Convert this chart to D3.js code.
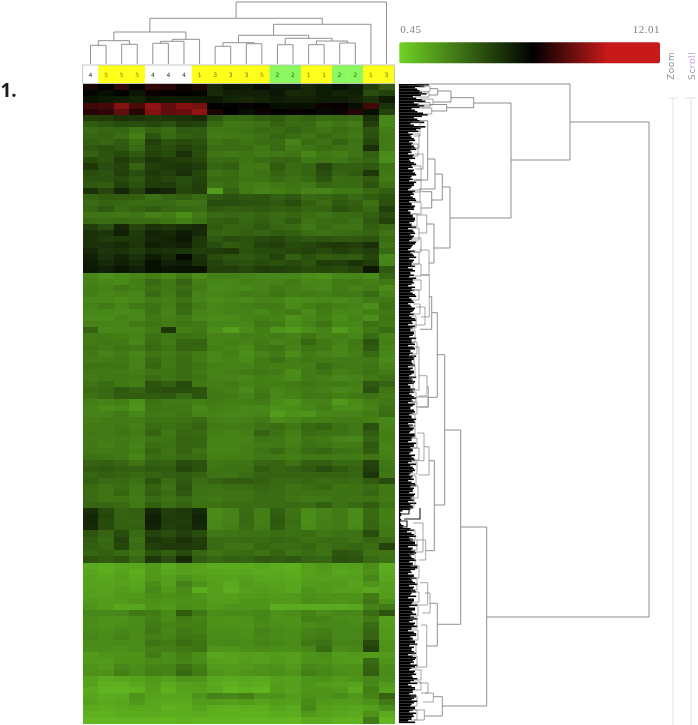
<!DOCTYPE html>
<html>
<head>
<meta charset="utf-8">
<script src="https://cdn.jsdelivr.net/npm/d3@7"></script>
<style>
  html, body { margin: 0; padding: 0; background: #fff; }
  svg { display: block; filter: blur(0.45px); }
</style>
</head>
<body>
<div id="chart"></div>
<script>
// annotation strip over the columns
const sampleGroups = [4, 5, 5, 5, 4, 4, 4, 1, 3, 3, 3, 5, 2, 2, 1, 1, 2, 2, 1, 3];
const groupColors = {1: "#ffff1c", 2: "#8af85e", 3: "#ffff1c", 4: "#ffffff", 5: "#ffff1c"};
const groupInk = {1: "#96650f", 2: "#2f6b2a", 3: "#6f6f18", 4: "#2a3038", 5: "#b07a10"};

// legend range
const legendMin = 0.45;
const legendMax = 12.01;

// heatmap rows top to bottom, 20 values per row
const redRows = [
  [6.8,6.4,7.2,6.5,7.2,7.0,6.6,6.9,5.3,5.8,5.6,6.0,5.7,5.7,5.3,5.6,6.0,5.6,4.6,3.8],
  [6.2,6.0,6.3,5.8,6.6,6.5,6.3,6.2,5.2,5.5,5.5,5.5,5.7,5.2,5.3,5.6,5.4,5.5,4.2,4.5],
  [5.9,5.7,5.6,5.4,5.8,5.6,5.7,5.7,5.7,5.4,5.3,5.4,5.6,5.5,5.5,5.6,5.6,5.4,5.0,5.6],
  [7.4,7.5,8.6,7.6,8.8,8.0,8.6,8.4,6.4,6.3,6.5,6.3,6.0,6.0,6.0,6.6,6.5,6.0,7.5,5.0],
  [7.0,7.2,8.0,7.0,8.6,8.0,8.2,8.8,6.8,6.4,6.0,6.6,6.4,6.5,6.3,6.1,6.6,7.0,6.0,4.5]
];
const upperRows = [
  [4.6,4.7,5.0,4.9,4.7,4.9,5.0,5.2,3.9,3.4,3.4,3.7,3.8,3.4,3.6,3.3,3.4,3.3,5.0,2.6],
  [3.8,4.0,4.3,4.2,4.4,4.1,4.6,4.5,3.4,3.0,3.1,3.2,3.6,3.3,3.4,2.9,3.1,2.9,4.6,2.6],
  [3.3,3.5,3.5,3.1,3.6,3.3,3.9,3.8,3.0,3.1,3.2,3.4,3.3,3.6,3.3,3.1,3.3,3.1,4.0,2.8],
  [3.5,3.6,3.3,2.8,4.0,3.4,3.7,3.9,2.9,3.0,3.0,3.2,3.5,3.3,3.1,3.4,3.2,3.0,4.1,2.9],
  [3.7,3.5,3.8,3.2,4.6,4.0,4.3,4.1,3.1,3.3,3.1,3.3,3.3,2.7,3.3,3.2,3.6,3.2,4.4,2.9],
  [3.9,4.1,3.9,3.4,4.4,4.2,4.5,4.3,3.3,3.3,3.3,3.0,3.4,2.9,3.1,3.3,3.2,3.1,5.0,2.9],
  [3.6,4.0,4.3,3.9,4.5,4.3,5.0,4.2,3.1,3.0,3.1,2.9,3.0,3.1,2.6,3.0,2.8,3.1,3.7,2.5],
  [4.3,4.0,4.7,4.2,4.9,4.7,4.6,4.4,3.3,3.4,3.1,3.3,3.5,3.5,3.0,3.1,3.0,3.3,3.5,2.4],
  [4.8,4.2,4.5,3.6,4.6,4.8,4.9,4.7,3.5,3.7,3.0,3.0,3.8,3.3,3.5,4.4,3.7,3.7,3.9,3.1],
  [4.2,4.0,4.6,4.2,4.8,4.6,5.0,4.4,3.2,3.3,3.0,3.2,3.6,3.3,3.6,4.2,3.6,3.8,4.8,3.0],
  [4.0,4.1,4.3,3.9,4.6,4.4,4.2,4.5,3.4,3.4,3.1,3.1,3.4,3.2,3.4,4.0,3.3,3.4,3.8,2.9],
  [3.9,3.8,4.5,4.1,4.7,4.7,4.3,4.6,3.2,3.3,2.9,2.8,3.0,3.1,3.0,3.5,3.4,3.3,4.0,3.2],
  [5.0,4.4,5.3,4.5,5.5,5.3,4.4,4.6,2.0,3.6,2.9,2.7,2.8,3.0,2.7,2.7,3.0,3.0,3.4,3.7],
  [3.6,3.8,3.8,3.7,3.2,3.5,3.7,3.4,3.9,4.1,3.9,4.0,3.7,3.9,3.4,3.5,3.7,3.4,3.8,4.0],
  [3.3,3.6,3.5,3.3,3.4,3.4,3.1,3.2,4.2,4.2,4.1,4.0,3.9,4.2,3.7,3.3,3.9,3.7,3.2,4.1],
  [3.5,3.9,3.4,3.6,3.8,3.5,3.4,3.3,3.9,3.7,3.8,3.9,3.7,3.8,3.5,3.6,4.1,3.8,3.4,4.6],
  [3.1,3.1,3.0,3.1,2.7,2.9,2.4,3.0,3.4,3.5,3.4,3.6,3.3,3.5,3.3,3.1,3.3,3.4,3.7,4.2],
  [3.4,3.3,3.4,3.3,3.3,3.1,2.8,3.2,3.7,3.8,3.5,3.7,3.4,3.8,3.2,3.3,3.4,3.2,3.9,4.5],
  [4.6,4.2,5.3,4.4,5.0,4.8,5.1,5.3,3.8,3.5,3.6,3.9,3.5,3.4,3.0,3.4,3.2,3.1,3.7,3.4],
  [5.0,4.9,5.5,4.7,5.4,5.2,5.6,5.2,3.6,3.5,3.7,3.6,3.8,3.7,3.3,3.2,3.3,3.4,3.6,3.1],
  [5.0,4.7,4.8,4.8,5.3,5.4,5.7,4.9,3.9,4.2,4.1,4.3,4.4,4.1,3.9,4.0,3.9,3.9,4.0,3.3],
  [5.0,5.0,5.2,4.9,5.5,5.3,5.5,4.8,4.2,3.8,4.0,4.5,4.6,4.3,4.4,4.7,4.8,4.6,5.0,3.1],
  [5.3,4.9,5.0,4.7,5.1,5.0,4.9,4.6,4.7,4.8,4.1,4.3,4.3,4.4,4.5,4.3,4.6,4.4,4.6,3.4],
  [5.5,5.0,5.4,5.0,5.6,5.2,6.1,5.0,4.3,4.0,3.9,4.1,4.5,3.7,4.1,3.8,3.9,3.8,4.4,2.6],
  [5.6,5.2,5.5,5.2,6.0,5.5,5.6,5.1,4.5,4.2,4.1,4.3,4.1,4.3,4.0,4.7,4.6,5.0,4.7,2.7],
  [5.7,5.5,5.8,5.5,6.0,5.8,5.9,5.9,4.6,4.6,4.4,4.7,4.6,4.5,4.3,4.4,4.3,4.5,5.7,3.9]
];
const midRows = [
  [2.6,2.3,2.4,2.6,2.8,2.5,2.9,2.4,2.8,2.8,2.7,2.6,2.6,2.6,2.4,2.3,2.6,2.6,2.5,3.5],
  [2.7,2.6,2.5,2.8,3.4,3.0,3.6,2.8,2.6,2.6,2.8,2.7,2.7,2.9,2.6,2.6,2.9,3.0,2.8,3.0],
  [2.8,2.7,3.0,2.8,3.2,3.0,3.3,2.9,2.5,2.6,2.6,2.7,3.0,2.8,2.7,2.6,2.9,2.7,2.9,2.5],
  [2.8,2.6,2.7,2.6,3.4,2.9,3.5,2.7,2.6,2.7,2.9,2.8,3.1,2.8,2.9,2.8,3.0,2.9,3.4,2.7],
  [2.6,2.6,2.5,2.6,2.9,2.8,3.2,2.7,2.5,2.6,2.5,2.7,2.7,2.4,2.5,2.6,2.5,2.6,2.9,3.0],
  [2.7,2.9,2.6,3.0,3.2,2.8,3.4,2.9,2.6,2.7,2.8,2.9,2.9,2.5,2.8,3.0,2.8,2.7,2.4,3.2],
  [2.6,2.6,2.5,2.6,3.2,2.7,3.3,2.7,2.6,2.7,2.7,2.6,2.8,2.9,2.5,2.9,2.6,2.6,2.8,3.0],
  [2.5,2.5,2.7,2.6,3.0,2.8,3.0,2.6,2.5,2.5,2.7,2.8,2.7,2.3,2.6,2.8,2.4,2.7,2.4,3.1],
  [2.7,2.7,2.6,2.9,3.1,2.9,3.1,3.0,2.6,2.6,2.6,3.0,2.9,2.4,2.7,3.1,2.6,2.6,3.2,3.0],
  [3.6,2.6,2.6,2.6,2.9,4.8,2.8,3.0,2.4,1.9,2.5,2.8,2.2,2.1,2.4,2.7,2.0,2.5,3.0,3.3],
  [2.9,2.9,2.8,2.7,3.2,3.0,3.2,3.1,2.7,2.7,2.8,2.8,2.9,2.7,3.1,2.7,2.8,2.6,3.4,2.7],
  [2.9,3.0,3.0,2.6,3.3,2.9,3.5,3.6,2.7,2.8,2.7,2.9,2.7,2.8,3.5,3.0,2.7,3.0,4.0,2.8],
  [3.1,2.9,3.1,3.0,3.4,3.1,3.6,3.5,2.8,2.7,2.5,3.0,3.1,2.7,3.1,3.0,2.6,2.9,3.9,2.7],
  [3.0,2.7,2.9,2.6,3.1,2.9,3.2,2.9,2.6,2.8,2.4,2.7,2.9,2.4,2.9,2.7,2.6,2.8,3.4,2.6],
  [2.9,2.9,3.0,2.7,3.3,3.0,3.3,2.9,2.6,2.7,2.5,2.9,3.2,2.8,3.0,2.9,2.9,2.9,3.0,2.5],
  [3.2,3.1,3.1,2.7,3.5,3.0,3.3,3.1,2.8,2.7,2.7,2.9,2.8,2.8,2.8,3.3,3.0,2.9,3.1,2.7],
  [3.0,3.0,2.9,2.8,3.1,3.1,3.3,3.0,2.7,2.8,2.9,3.0,2.9,2.4,2.9,3.1,2.8,2.9,3.2,2.9],
  [2.9,3.0,3.0,2.9,3.3,3.1,3.3,3.1,2.7,2.7,2.6,2.8,2.7,2.5,2.9,2.8,2.6,2.7,3.0,3.2],
  [3.1,3.3,3.0,2.8,4.0,3.7,4.3,3.0,2.8,2.9,2.7,2.8,2.8,2.9,3.1,2.9,2.9,2.8,3.9,3.6],
  [3.3,3.4,3.9,3.6,4.1,4.2,4.2,4.0,2.9,2.8,2.5,2.9,2.6,2.8,2.9,2.8,2.6,2.7,4.1,3.1],
  [3.2,3.4,3.8,3.8,3.8,3.9,3.4,4.0,3.0,2.9,2.7,3.1,2.6,2.7,3.0,3.0,2.8,3.0,3.2,2.9],
  [2.8,2.7,2.8,2.3,3.2,2.9,2.9,2.8,2.9,2.8,2.8,2.9,2.5,2.2,2.7,2.7,2.1,2.5,2.8,3.0],
  [2.7,2.5,2.6,2.2,3.1,3.0,3.0,2.6,2.8,2.7,2.6,2.6,2.3,2.4,2.6,2.8,2.4,2.4,2.7,3.2],
  [2.7,2.7,3.0,2.6,3.0,2.9,3.1,2.7,2.7,2.6,2.6,2.7,2.0,2.3,2.2,2.6,2.7,2.7,2.9,3.3],
  [2.8,2.9,2.9,2.9,3.1,3.1,3.2,3.4,2.8,2.7,2.8,3.0,2.5,2.6,2.8,2.8,2.9,2.9,2.8,2.6],
  [2.9,2.9,3.0,2.8,3.3,3.2,3.3,3.6,2.9,2.9,2.9,3.2,3.3,3.0,3.4,3.6,3.2,3.0,4.1,2.7],
  [3.0,2.9,3.1,2.9,3.6,3.0,3.5,3.4,2.8,2.7,2.8,3.6,3.2,2.8,3.3,3.2,3.2,3.0,3.8,2.8],
  [2.9,2.9,2.9,2.8,3.1,3.1,3.6,3.5,2.7,2.7,2.7,3.1,3.0,2.7,3.1,3.0,2.7,2.6,3.6,2.8],
  [3.0,2.8,3.0,2.7,3.3,3.2,3.5,3.5,2.7,2.7,2.8,2.9,3.0,2.8,3.2,3.1,2.9,2.9,3.9,2.7],
  [3.0,2.9,3.0,2.8,3.5,3.1,3.6,3.2,2.7,2.7,2.8,3.1,3.4,2.9,3.3,3.5,3.2,3.1,3.8,2.7],
  [3.2,3.1,3.0,2.6,3.3,3.2,3.4,3.3,2.8,2.8,2.8,3.0,3.0,2.8,3.0,3.0,2.9,2.9,3.1,2.8],
  [3.6,3.7,3.5,3.1,3.7,3.6,4.2,4.0,3.0,3.1,3.1,3.5,3.6,3.2,3.7,3.7,3.4,3.4,4.5,3.0],
  [3.8,3.9,3.7,3.7,3.9,3.8,4.4,4.1,3.1,3.2,3.2,3.8,3.5,3.7,3.9,4.2,3.9,3.6,4.6,3.1],
  [3.5,3.7,3.6,3.4,3.6,3.7,3.8,3.6,3.2,3.1,3.3,3.6,3.6,3.6,3.6,3.6,3.6,3.5,4.9,3.0],
  [3.7,3.4,3.4,3.2,4.0,3.3,3.9,3.3,3.6,3.8,3.8,3.7,3.4,3.4,3.5,3.3,3.4,3.3,3.8,4.2],
  [3.4,3.2,3.3,3.0,3.6,3.2,4.0,3.2,3.2,3.3,3.3,3.5,3.4,3.1,3.3,3.5,3.1,3.2,3.3,3.0],
  [3.3,3.1,3.5,3.0,3.7,3.3,3.9,3.2,3.1,3.2,3.2,3.4,3.3,3.2,3.2,3.2,3.2,3.2,3.5,3.0],
  [3.3,3.1,3.1,2.9,3.4,3.2,3.4,3.1,3.0,3.2,3.2,3.3,3.3,3.1,3.0,3.0,3.2,3.1,3.2,2.9],
  [3.5,3.5,3.4,3.0,3.7,3.3,3.6,3.2,3.2,3.3,3.3,3.3,3.3,3.4,3.3,3.7,3.2,3.4,3.8,3.1]
];
const patchRows = [
  [5.1,4.3,3.6,3.7,5.3,4.6,4.8,5.2,2.5,2.7,3.3,2.8,3.7,3.2,2.5,2.7,2.9,2.5,3.4,2.8],
  [5.3,4.4,3.6,3.7,5.5,4.7,4.8,5.4,2.5,2.7,3.4,2.8,3.8,3.2,2.4,2.7,2.9,2.5,3.4,2.8],
  [5.3,4.3,3.7,3.6,5.5,4.7,4.7,5.4,2.6,2.7,3.4,2.8,3.9,3.3,2.4,2.8,2.9,2.5,3.5,2.8],
  [5.2,4.3,3.7,3.7,5.4,4.6,4.8,5.3,2.6,2.8,3.3,2.9,3.8,3.2,2.5,2.8,2.9,2.6,3.5,2.9]
];
const shoulderRows = [
  [4.0,3.6,4.2,3.4,4.5,4.2,4.6,4.2,3.0,3.1,3.2,3.2,3.3,3.2,3.3,3.0,3.2,3.2,4.2,3.0],
  [3.8,3.4,4.5,3.2,4.9,4.6,5.0,4.6,3.3,3.3,3.4,3.3,3.5,3.4,3.2,3.3,3.3,3.2,3.5,3.3],
  [3.7,3.5,4.4,3.3,4.6,4.8,4.8,4.7,3.4,3.2,3.1,3.5,3.3,3.3,3.5,3.2,3.4,3.5,3.3,4.5],
  [3.5,3.7,3.4,3.1,4.0,3.7,4.3,3.5,3.1,3.3,3.4,3.2,3.6,3.2,3.3,3.2,4.0,3.9,3.2,3.1],
  [4.0,3.8,4.0,3.4,4.8,4.2,5.2,3.8,3.5,3.7,3.6,3.9,3.8,3.9,3.6,3.5,4.1,4.0,3.4,3.2]
];
const lowerRows = [
  [1.6,1.5,1.7,1.7,2.0,1.6,1.9,1.8,1.6,1.5,1.6,1.7,1.5,1.4,1.9,2.1,1.8,1.9,2.4,1.5],
  [1.7,1.5,1.8,1.5,2.1,1.7,1.9,1.8,1.7,1.7,1.7,1.6,1.6,1.5,1.8,2.0,1.7,1.8,2.3,1.6],
  [1.8,1.7,1.9,1.6,2.1,1.9,2.2,2.0,1.8,1.8,1.9,1.7,1.7,1.6,1.9,1.9,1.9,1.9,2.6,1.7],
  [1.8,1.8,1.8,1.7,2.4,1.9,2.7,2.2,1.9,1.6,2.0,1.9,1.8,1.7,2.0,2.1,2.0,1.8,2.2,1.9],
  [1.9,1.8,2.0,1.8,2.6,2.1,2.5,1.5,1.9,1.5,1.9,2.0,1.9,1.7,2.2,2.1,1.9,1.9,1.7,1.9],
  [1.9,1.9,2.1,2.1,2.4,2.3,2.4,2.2,1.9,1.9,2.0,2.1,2.0,2.1,2.3,2.2,2.3,2.2,2.9,2.0],
  [2.1,2.0,2.0,2.2,2.3,2.2,2.3,2.3,2.0,2.0,2.2,2.2,2.1,2.1,2.4,2.3,2.2,2.3,3.1,2.3],
  [2.2,2.0,1.7,1.7,2.2,2.1,2.4,2.3,2.1,2.2,2.2,2.2,1.5,1.6,1.6,1.6,1.6,1.7,2.7,2.9],
  [2.6,2.6,2.6,3.0,2.9,2.5,3.8,3.0,2.4,2.5,2.5,2.6,2.3,2.4,2.7,2.4,2.6,2.6,3.3,4.0],
  [2.5,2.3,2.3,2.4,2.8,2.5,2.9,2.7,2.3,2.2,2.3,2.6,2.3,2.3,2.8,2.7,2.5,2.4,2.9,1.9],
  [2.4,2.3,2.4,2.5,2.9,2.7,2.8,2.8,2.3,2.3,2.2,2.5,2.4,2.3,2.5,2.6,2.6,2.5,3.3,2.0],
  [2.5,2.4,2.6,2.5,3.0,2.6,3.0,2.8,2.4,2.4,2.3,2.7,2.5,2.4,2.7,2.8,2.6,2.6,3.5,2.1],
  [2.6,2.5,2.7,2.5,2.8,2.7,3.1,3.0,2.4,2.5,2.4,2.6,2.5,2.4,2.8,2.9,2.6,2.6,3.6,2.1],
  [2.5,2.4,2.5,2.4,3.1,2.9,3.3,3.1,2.5,2.6,2.5,2.7,2.6,2.5,3.0,3.2,2.7,2.7,4.3,2.2],
  [2.4,2.4,2.3,2.5,2.8,2.8,3.0,3.2,2.2,2.2,2.4,2.5,2.4,2.4,2.6,3.4,2.5,2.6,4.5,2.3],
  [2.0,2.2,2.2,2.2,2.9,2.4,2.8,2.4,1.7,1.8,1.9,1.9,2.0,1.9,2.2,2.4,2.0,2.1,2.0,2.1],
  [2.1,2.1,2.3,2.3,2.5,2.4,2.7,2.5,1.9,1.8,2.0,1.9,2.1,1.9,2.3,2.3,2.1,2.0,3.4,2.2],
  [2.2,2.1,2.6,2.4,2.7,2.7,3.2,2.8,2.1,2.0,2.1,2.2,2.3,2.1,2.6,2.5,2.3,2.3,3.6,2.4],
  [2.3,2.3,2.8,2.5,2.8,2.7,3.4,2.9,2.2,2.1,2.2,2.3,2.4,2.2,2.8,2.6,2.4,2.3,3.7,2.5],
  [1.8,1.6,1.7,1.8,2.1,1.9,2.2,2.2,1.7,1.6,1.7,1.6,1.9,1.8,2.2,2.3,2.1,2.2,2.6,2.4],
  [1.8,1.4,1.4,1.7,2.0,1.6,1.8,2.0,1.6,1.4,1.6,1.5,2.0,1.9,2.2,2.0,1.9,1.8,2.6,2.1],
  [1.6,1.3,1.3,1.4,1.9,1.4,1.8,1.9,1.7,1.3,1.4,1.3,2.0,1.8,2.2,2.2,2.1,1.6,2.8,1.9],
  [1.7,1.5,1.6,2.2,1.8,1.7,1.7,2.2,2.7,2.6,2.8,2.2,2.3,2.0,2.3,2.2,2.4,2.1,2.7,3.6],
  [1.8,1.6,1.7,2.1,1.7,1.6,1.6,2.0,2.0,1.9,2.0,1.8,2.0,1.9,2.5,2.1,2.0,2.0,2.3,3.0],
  [1.6,1.5,1.6,1.7,1.7,1.4,1.5,1.8,1.5,1.4,1.5,1.5,1.8,1.6,2.6,1.9,1.8,1.7,1.9,2.4],
  [1.4,1.4,1.5,1.5,1.6,1.5,1.5,1.6,1.4,1.4,1.4,1.4,1.5,1.5,2.1,1.8,1.7,1.6,2.3,1.6],
  [1.2,1.2,1.3,1.3,1.3,1.2,1.4,1.3,1.3,1.3,1.2,1.2,1.3,1.2,1.6,1.6,1.4,1.4,2.9,1.3]
];
// where each block of rows starts and ends, in row-order units (0..639)
const rowBreaks = [0, 31, 188.5, 424, 446, 479, 639];

// column tree: [child, child, distance], leaves are 0..19, merges number on from 20
const colMerges = [
  [0, 1, 18.7], [2, 3, 19.7], [20, 21, 23.3], [4, 5, 20.7], [23, 6, 22.7], [24, 7, 24.7], [22, 25, 32],
  [8, 9, 17.7], [10, 11, 20.3], [27, 28, 21.3], [12, 13, 19.3], [14, 15, 19.3], [16, 17, 21],
  [31, 32, 23], [30, 33, 25.7], [29, 34, 28.7], [35, 18, 39.7], [26, 36, 45.7], [37, 19, 62]
];

// solid edge of the row tree: depth of the leaves, two leaves per 3 rows
const leafTop = [26,14,18,24,12,20,13,22,11,16,25,13,18,10,23,15];
const leafMid = [
  8,10,13,9,11,14,10,8,12,9,13,11,8,12,15,10,9,13,11,8,
  12,10,14,9,11,13,8,10,12,14,9,11,8,13,10,12,9,14,11,8,
  10,13,9,12,11,8,14,10,9,12,13,8,11,10,14,9,12,8,11,13,
  10,9,14,11,8,12,10,13,9,11,12,8,14,10,9,13,11,12,8,10,
  13,9,11,14,8,10,12,9,13,11,8,12,10,14,9,11,13,8,10,12,
  9,14,11,8,13,10,12,9,11,14,8,10,13,12,9,11,8,14,10,12,
  9,13,11,8,10,12
];
const leafGap = [3,2,1,2,1,4];
const leafLow = [
  10,7,13,9,12,14,8,11,15,10,13,9,12,16,10,8,13,11,14,9,
  12,15,10,8,13,11,9,14,12,10,16,9,13,11,8,15,10,12,14,9,
  11,13,8,15,12,10,14,9,13,11,16,10,8,14,12,9,15,11,13,10,
  14,9,12,11,8
];
const leafBetween = [
  22,16,20,19,15,23,17,18,14,21,20,16,22,13,19,17,
  12,11,14,12,13,15,11,13,14,10,15,12,13,14,11,12,15,13,10,14,
  13,12,15,11,14,13,10,12,14,13,11,15,12,14,13,11,15,12,10,14,
  12,15,13,11,14,12,10,13,15,12,11,14,13,12,15,11,13,10,14,12,
  13,11,15,12,14,10,13,12,15,11,14,13,10,12,15,13,11,14,12,13,
  11,15,12,13,10,14,13,11,15,12,14,10,13,12,11,15,14,12,13,10,
  14,12,11,15,13,12,10,14,13,11,15,12,14,10,12,13,11,15,13,12,
  14,11,13,15,12,10,
  1,2,1,1,2,3,
  13,11,15,12,14,16,12,14,13,11,15,12,16,14,11,13,15,12,16,13,
  14,11,15,13,12,16,14,11,15,13,12,14,16,11,13,15,12,14,16,13,
  11,15,12,14,13,16,11,14,15,12,13,16,11,14,12,15,13,16,11,14,
  12,15,13,11,14
];

// row tree brackets: [row from, row to, distance, distance of upper child, distance of lower child]
const rowLinksMain = [
  [38, 533, 250, 171, 87.7], [0, 76, 171, 26, 112], [19, 134, 112, 74.7, 51],
  [13.7, 23.7, 74.7, 52, 47.7], [7, 18, 52, 38.7, 34], [4.7, 11, 38.7, 31, 30], [20.5, 27, 47.7, 31, 32.7],
  [103, 164, 51, 43.3, 35], [90, 116, 43.3, 36, 32.7], [75, 105, 36, 28.7, 20], [36.7, 96, 28.7, 21, 17],
  [107.7, 124, 32.7, 23, 22], [140, 179, 35, 27.7, 30],
  [443, 622, 87.7, 61.7, 43.3], [346, 540.3, 61.7, 45.7, 38.3], [270.7, 421, 45.7, 38.3, 35.3],
  [228.7, 313.3, 38.3, 32.7, 29.3], [212.7, 245.3, 32.7, 30.3, 21], [519.3, 562, 38.3, 31, 27.7],
  [376.7, 466.7, 35.3, 30, 26.7], [612.7, 632, 43.3, 34.3, 25.3]
];
const rowLinksSmall = [
  [2, 7.5, 31, 22, 24], [9, 13, 30, 20, 16], [15, 21, 34, 22, 18], [24, 30, 32.7, 20, 24], [18.5, 23, 31, 19, 22], [0, 3, 26, 18, 20],
  [131, 149, 27.7, 18, 20], [166, 191, 30, 20, 22], [191, 233, 30.3, 22, 22], [223, 241, 26, 17, 15],
  [302.7, 323, 29.3, 28, 20], [263, 306, 20, 13, 14], [291.7, 312, 28, 20, 20], [313, 323, 29, 17, 17],
  [362.7, 391, 30, 25, 19], [349, 376.7, 25, 18, 16], [456, 476, 26.7, 18, 20], [439, 468, 24, 14, 14],
  [509, 529, 31, 26, 23], [498.7, 521, 28.7, 21, 20], [541, 583, 27.7, 22, 18], [609, 618, 34.3, 26, 24],
  [599, 609, 29, 20, 22], [626, 636, 25.3, 16, 15],
  [38, 52, 21, 13, 15], [50, 64, 20, 14, 12], [60, 72, 19, 12, 13], [70, 85, 24, 15, 16], [82, 96, 22, 14, 13],
  [96, 108, 22, 15, 14], [106, 118, 21, 13, 15], [118, 130, 22, 13, 14], [130, 142, 18, 12, 13], [144, 156, 20, 13, 12],
  [154, 168, 22, 14, 15], [168, 180, 20, 12, 14], [180, 192, 22, 13, 15],
  [196, 206, 22, 14, 13], [206, 216, 20, 13, 12], [220, 230, 21, 14, 13], [232, 244, 17, 12, 11], [246, 258, 16, 11, 12],
  [258, 270, 18, 12, 11], [272, 282, 15, 10, 12], [282, 294, 16, 11, 10], [296, 306, 14, 10, 11], [308, 318, 17, 11, 12],
  [318, 330, 18, 12, 12], [330, 342, 16, 11, 10], [342, 354, 16, 10, 12], [354, 364, 18, 12, 11], [364, 376, 20, 13, 12],
  [378, 390, 18, 12, 11], [392, 402, 17, 11, 12], [402, 414, 19, 12, 13], [414, 424, 15, 11, 10],
  [446, 456, 16, 10, 11], [456, 466, 18, 11, 12], [470, 482, 16, 10, 11], [482, 494, 20, 12, 13], [494, 506, 18, 11, 12],
  [508, 518, 20, 12, 13], [520, 532, 19, 12, 12], [534, 544, 18, 11, 12], [546, 556, 19, 12, 11], [560, 570, 17, 11, 12],
  [572, 584, 18, 12, 11], [586, 596, 22, 14, 15], [598, 606, 22, 14, 15], [612, 622, 18, 12, 13], [626, 636, 18, 11, 12]
];
// the thin spot in the leaves, y 508..528
const rowLinksGap = [[424, 435, 21, 21, 5], [425, 430, 10, 2, 2], [437, 443, 8, 1, 3]];

const width = 698;
const height = 725;
const heat = {left: 82.7, right: 394.3, top: 84, bottom: 723};
const stripTop = 65;
const treeLeft = 399;

const svg = d3.select("#chart").append("svg")
  .attr("width", width)
  .attr("height", height);

const colorScale = d3.scaleLinear()
  .domain([legendMin, 6.39, 9.7, legendMax])
  .range(["#70d225", "#000000", "#c81a1a", "#c81a1a"]);

const xScale = d3.scaleBand()
  .domain(d3.range(sampleGroups.length))
  .range([heat.left, heat.right]);

const rowScale = d3.scaleLinear().domain([0, 639]).range([heat.top, heat.bottom]);

// heatmap, block by block
const rowBlocks = [redRows, upperRows, midRows, patchRows, shoulderRows, lowerRows];
const heatG = svg.append("g").attr("id", "heat").attr("shape-rendering", "crispEdges");
rowBlocks.forEach((rows, b) => {
  const yBand = d3.scaleBand()
    .domain(d3.range(rows.length))
    .range([rowScale(rowBreaks[b]), rowScale(rowBreaks[b + 1])]);
  rows.forEach((row, r) => {
    heatG.selectAll(null)
      .data(row)
      .enter()
      .append("rect")
      .attr("x", (d, i) => xScale(i))
      .attr("y", yBand(r))
      .attr("width", xScale.bandwidth() + 0.5)
      .attr("height", yBand.bandwidth() + 0.5)
      .attr("fill", d => colorScale(d));
  });
});

// annotation strip
const strip = svg.append("g").attr("id", "strip");
strip.selectAll("rect")
  .data(sampleGroups)
  .enter()
  .append("rect")
  .attr("x", (d, i) => xScale(i))
  .attr("y", stripTop)
  .attr("width", xScale.bandwidth() + 0.3)
  .attr("height", heat.top - stripTop - 0.5)
  .attr("fill", d => groupColors[d]);
strip.append("rect")
  .attr("x", heat.left)
  .attr("y", stripTop)
  .attr("width", heat.right - heat.left)
  .attr("height", heat.top - stripTop - 0.5)
  .attr("fill", "none")
  .attr("stroke", "#b4b8bc")
  .attr("stroke-width", 0.8);
strip.selectAll("text")
  .data(sampleGroups)
  .enter()
  .append("text")
  .attr("x", (d, i) => xScale(i) + xScale.bandwidth() / 2)
  .attr("y", 77)
  .attr("text-anchor", "middle")
  .attr("font-family", "'DejaVu Sans', sans-serif")
  .attr("font-size", 6)
  .attr("fill", d => groupInk[d])
  .text(d => d);

// column tree
const colHeight = d3.scaleLinear().domain([0, 62]).range([64, 2]);
const colNodes = sampleGroups.map((d, i) => ({x: xScale(i) + xScale.bandwidth() / 2, h: 0}));
const colPath = d3.line();
const colTree = svg.append("g").attr("id", "col-tree")
  .attr("fill", "none").attr("stroke", "#858585").attr("stroke-width", 0.9);
colMerges.forEach(([a, b, dist]) => {
  const left = colNodes[a];
  const right = colNodes[b];
  colNodes.push({x: (left.x + right.x) / 2, h: dist});
  colTree.append("path").attr("d", colPath([
    [left.x, colHeight(left.h)],
    [left.x, colHeight(dist)],
    [right.x, colHeight(dist)],
    [right.x, colHeight(right.h)]
  ]));
});

// row tree
const distScale = d3.scaleLinear().domain([0, 250]).range([treeLeft, 649]);
const leafScale = d3.scaleLinear().domain([0, 15]).range([treeLeft, treeLeft + 17.2]);
const leafReach = [...leafTop, ...leafMid, ...leafGap, ...leafLow];
const rowTree = svg.append("g").attr("id", "row-tree");

rowTree.append("line")
  .attr("x1", distScale(0.5)).attr("x2", distScale(0.5))
  .attr("y1", rowScale(0)).attr("y2", rowScale(639))
  .attr("stroke", "#8a8a8a").attr("stroke-width", 1.4);

const leafHeight = (rowScale(3) - rowScale(0)) / 2;
rowTree.selectAll(".leaf")
  .data(leafReach)
  .enter()
  .append("rect")
  .attr("class", "leaf")
  .attr("x", treeLeft)
  .attr("y", (d, i) => rowScale(i * 3))
  .attr("width", d => leafScale(d) - treeLeft)
  .attr("height", leafHeight + 0.1)
  .attr("fill", "#000");
rowTree.selectAll(".leaf-between")
  .data(leafBetween)
  .enter()
  .append("rect")
  .attr("class", "leaf-between")
  .attr("x", treeLeft)
  .attr("y", (d, i) => rowScale(i * 3) + leafHeight)
  .attr("width", d => leafScale(d) - treeLeft)
  .attr("height", leafHeight + 0.1)
  .attr("fill", "#000");

const bracket = d => colPath([
  [distScale(d[3]), rowScale(d[0])],
  [distScale(d[2]), rowScale(d[0])],
  [distScale(d[2]), rowScale(d[1])],
  [distScale(d[4]), rowScale(d[1])]
]);

rowTree.selectAll(".small")
  .data(rowLinksSmall)
  .enter()
  .append("path")
  .attr("class", "small")
  .attr("d", bracket)
  .attr("fill", "none")
  .attr("stroke", "#808080")
  .attr("stroke-width", 0.7);

rowTree.selectAll(".gap")
  .data(rowLinksGap)
  .enter()
  .append("path")
  .attr("class", "gap")
  .attr("d", bracket)
  .attr("fill", "none")
  .attr("stroke", "#1a1a1a")
  .attr("stroke-width", 1.1);

rowTree.selectAll(".main")
  .data(rowLinksMain)
  .enter()
  .append("path")
  .attr("class", "main")
  .attr("d", bracket)
  .attr("fill", "none")
  .attr("stroke", "#7c7c7c")
  .attr("stroke-width", 0.85);

// legend
const legendX = d3.scaleLinear().domain([legendMin, legendMax]).range([399.3, 660]);
const gradient = svg.append("defs").append("linearGradient").attr("id", "legend-fill");
colorScale.domain().forEach(v => {
  gradient.append("stop")
    .attr("offset", (v - legendMin) / (legendMax - legendMin))
    .attr("stop-color", colorScale(v));
});
svg.append("rect")
  .attr("x", legendX(legendMin))
  .attr("y", 42.3)
  .attr("width", legendX(legendMax) - legendX(legendMin))
  .attr("height", 21)
  .attr("rx", 2)
  .attr("fill", "url(#legend-fill)");
svg.selectAll(".legend-label")
  .data([legendMin, legendMax])
  .enter()
  .append("text")
  .attr("class", "legend-label")
  .attr("x", d => legendX(d) + (d === legendMin ? 1 : 0))
  .attr("y", 33)
  .attr("text-anchor", d => d === legendMin ? "start" : "end")
  .attr("font-family", "'Liberation Serif', serif")
  .attr("font-size", 11)
  .attr("letter-spacing", 0.5)
  .attr("fill", "#808080")
  .text(d => d.toFixed(2));

// zoom and scroll sliders
const sliders = [
  {x: 673, left: 667, right: 678},
  {x: 691, left: 684, right: 697}
];
svg.selectAll(".slider")
  .data(sliders)
  .enter()
  .append("path")
  .attr("class", "slider")
  .attr("d", d => `M${d.left},98H${d.right}M${d.x},98V${height}`)
  .attr("fill", "none")
  .attr("stroke", "#e2e2e2")
  .attr("stroke-width", 1);

svg.append("text")
  .attr("transform", "translate(674,80) rotate(-90)")
  .attr("font-family", "'DejaVu Sans', sans-serif")
  .attr("font-size", 9)
  .attr("letter-spacing", 0.6)
  .attr("fill", "#8d93a0")
  .text("Zoom");

const scrollText = svg.append("text")
  .attr("transform", "translate(695,80) rotate(-90)")
  .attr("font-family", "'DejaVu Sans', sans-serif")
  .attr("font-size", 9)
  .attr("letter-spacing", 0.6);
scrollText.append("tspan").attr("fill", "#9a9aa4").text("Sc");
scrollText.append("tspan").attr("fill", "#c79ae0").text("roll");

// panel number
svg.append("text")
  .attr("x", 0.5)
  .attr("y", 96.7)
  .attr("font-family", "'Open Sans', sans-serif")
  .attr("font-weight", 700)
  .attr("font-size", 19)
  .attr("fill", "#1a1a1a")
  .text("1.");
</script>
</body>
</html>
